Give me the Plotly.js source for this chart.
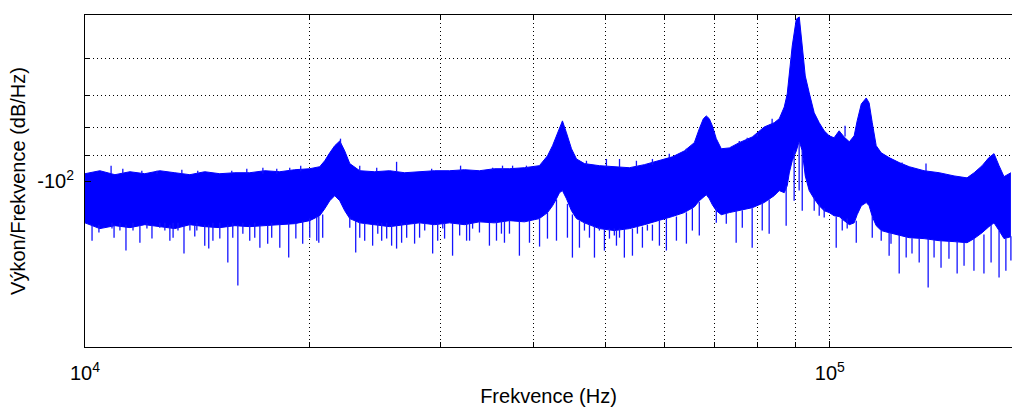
<!DOCTYPE html>
<html>
<head>
<meta charset="utf-8">
<script src="https://cdn.plot.ly/plotly-3.0.1.min.js"></script>
<style>
html,body{margin:0;padding:0;background:#fff;overflow:hidden;}
#chart{width:1012px;height:407px;}
</style>
</head>
<body>
<div id="chart"></div>
<script>
// Frequency samples (Hz) of the envelope of the PSD band
const freqHz = [
  10000,10470,10970,11490,12030,12600,13200,13830,14480,15170,15890,16640,17430,18260,19120,
  20030,20660,20980,21310,21640,21980,22320,22670,23380,24480,25640,26860,28130,29460,30860,32320,33850,35450,37140,38900,40740,
  41780,42430,42950,43350,43750,44300,44990,45690,
  46830,49040,51360,53810,56360,59030,61450,63760,65770,
  66790,67630,68250,68890,69530,70390,71490,73280,75580,78670,
  81640,84200,85510,86850,87650,88200,89010,90130,90970,91810,
  92670,93810,95270,96760,98260,99790,101300,102900,104500,106200,
  107800,108800,110200,111900,112900,114000,115400,117200,120100,123900,
  127800,133800,140200,146800,152800,156200,160100,163500,166100,168700,
  171300,175000
];
// Upper edge of the band (dB/Hz)
const upperDb = [
  -97.0,-95.8,-97.4,-96.2,-97.0,-95.8,-96.6,-97.4,-96.2,-97.0,-96.6,-96.6,-95.8,-96.2,-95.4,
  -95.0,-94.2,-91.9,-88.9,-86.3,-84.6,-88.2,-93.0,-95.8,-96.2,-95.8,-96.6,-96.2,-95.8,-95.8,-95.4,-95.8,-95.0,-95.0,-94.6,-93.8,
  -90.0,-86.3,-82.8,-79.8,-77.8,-81.8,-87.4,-91.2,
  -93.0,-93.8,-94.2,-94.6,-93.4,-91.9,-90.4,-88.2,-85.2,
  -80.4,-77.1,-76.2,-77.1,-79.4,-83.8,-87.4,-87.1,-85.2,-83.2,
  -79.8,-78.4,-77.1,-73.4,-69.5,-63.2,-56.9,-50.9,-50.4,-56.9,
  -64.5,-69.2,-75.2,-78.4,-81.1,-82.8,-83.5,-81.1,-83.2,-84.9,
  -82.8,-77.8,-72.5,-70.7,-72.2,-78.4,-86.3,-88.9,-90.7,-92.6,
  -94.2,-95.8,-96.6,-97.9,-98.7,-96.6,-93.8,-90.7,-89.2,-93.8,
  -98.2,-96.6
];
// Lower edge of the dense part of the band (dB/Hz)
const lowerDb = [
  -119.1,-122.0,-120.5,-121.5,-120.0,-121.0,-122.0,-120.0,-121.0,-121.5,-120.5,-121.0,-120.5,-120.0,-119.5,
  -118.0,-115.6,-112.3,-108.6,-106.3,-108.6,-113.2,-117.0,-119.1,-120.0,-121.0,-120.0,-119.1,-120.0,-119.1,-120.0,-118.6,-119.1,-118.0,-118.6,-117.0,
  -114.1,-110.9,-107.7,-105.0,-104.1,-107.7,-113.2,-117.0,
  -119.1,-122.0,-123.0,-122.0,-120.0,-118.0,-116.0,-114.1,-111.4,
  -108.6,-106.8,-105.9,-107.7,-110.4,-113.2,-115.1,-114.1,-113.2,-111.8,
  -109.4,-106.3,-104.1,-105.0,-102.0,-96.7,-91.9,-88.2,-84.6,-88.2,
  -97.9,-104.1,-107.7,-110.9,-113.2,-114.1,-115.6,-116.0,-118.0,-120.0,
  -119.1,-115.1,-110.9,-109.4,-110.9,-116.0,-120.5,-123.0,-124.1,-125.6,
  -126.7,-127.2,-128.3,-128.8,-129.4,-127.2,-124.1,-121.0,-119.1,-123.0,
  -127.2,-126.2
];
// Downward spikes below the band: frequency, tip value, value where the spike leaves the band
const spikeFreqHz = [
  10220,10440,10940,11350,11850,12300,13000,13580,14040,14480,14660,15550,16040,16640,17170,17590,18260,18770,19190,19600,
  20600,20850,23090,23740,24330,25800,26200,27700,29290,30390,31150,32830,34910,36570,38300,39510,40760,41770,42950,
  45120,46110,48300,49810,50590,51700,52980,54320,56020,57780,59040,60330,62230,64180,66790,
  74850,78650,82890,87360,89540,90940,91810,101980,108500,117200,120100,123900,128900,131800,135500,
  141000,144500,148200,151400,156100,161000,164600,168700,172300,175000,
  10870,11140,11600,12110,12600,12800,13130,13330,13830,14130,14850,15170,15790,16290,16900,17810,20030,20470,
  22670,23380,24720,25020,25410,26610,27030,28130,28580,29750,30220,31840,32530,33140,33850,35680,36230,37140,
  44430,46830,47560,49040,51360,52190,55160,56890,65370,70390,72600,76280,81130,
  95270,96760,98260,103900,105500,114000,120800,126600,138000
];
const spikeTipDb = [
  -128.3,-124.0,-126.7,-133.7,-129.4,-127.2,-128.3,-135.4,-126.1,-131.0,-132.6,-140.6,-154.7,-128.3,-132.1,-129.9,-132.1,-137.7,-127.2,-129.9,
  -129.4,-126.7,-134.8,-128.3,-131.0,-131.0,-132.6,-129.9,-135.4,-127.2,-136.6,-128.3,-131.0,-129.4,-136.6,-129.4,-131.5,-127.2,-128.3,
  -137.7,-132.1,-137.7,-133.7,-127.2,-131.0,-137.7,-136.6,-132.1,-128.3,-131.0,-133.7,-128.3,-129.9,-125.6,
  -129.4,-132.1,-124.6,-120.5,-108.6,-104.1,-113.2,-132.1,-129.4,-128.3,-136.6,-147.2,-135.4,-140.6,-156.0,
  -143.6,-138.3,-147.2,-142.4,-145.4,-147.2,-140.6,-149.7,-145.4,-139.4,
  -122.0,-123.0,-123.0,-122.0,-121.5,-123.0,-126.7,-123.0,-123.0,-123.0,-128.3,-127.2,-126.7,-124.6,-126.7,-126.7,-126.7,-128.3,
  -121.5,-126.7,-124.6,-128.3,-127.2,-129.4,-126.7,-126.7,-123.0,-128.3,-122.0,-125.6,-128.3,-122.0,-124.0,-128.3,-124.6,-124.6,
  -126.7,-123.0,-126.7,-123.0,-125.6,-126.7,-124.6,-123.0,-123.0,-119.1,-119.5,-121.5,-123.0,
  -113.2,-115.6,-116.5,-123.0,-122.0,-126.7,-129.9,-137.7,-137.7
];
const spikeBaseDb = [
  -120,-120,-120,-120,-120,-120,-120,-120,-120,-120,-120,-120,-120,-120,-120,-120,-120,-119,-119,-118,
  -116,-115,-118,-119,-120,-120,-120,-119,-120,-119,-119,-119,-119,-118,-118,-118,-117,-114,-108,
  -115,-118,-121,-122,-122,-123,-122,-122,-121,-120,-118,-117,-116,-114,-109,
  -113,-112,-108,-102,-88,-85,-88,-116,-118,-123,-124,-125,-127,-127,-127,
  -128,-128,-129,-129,-127,-125,-120,-123,-127,-126,
  -119,-119,-119,-119,-119,-119,-119,-119,-119,-119,-119,-119,-119,-119,-119,-119,-117,-116,
  -116,-118,-119,-119,-119,-119,-119,-119,-119,-119,-119,-119,-119,-119,-118,-118,-118,-118,
  -110,-119,-120,-121,-122,-122,-121,-120,-112,-112,-114,-113,-109,
  -107,-110,-112,-117,-117,-116,-124,-126,-128
];
// Short upward tips above the band: frequency, tip value, value where the tip leaves the band
const tipFreqHz = [
  10840,11240,11920,12490,13490,14170,15740,16490,17330,18090,18830,19480,22030,23380,24640,26200,29200,31930,
  35250,36350,37500,39140,47120,50120,52190,54990,57780,60870,64180,75580,77450,79880,83650,104800,125000,134600
];
const tipTopDb = [
  -93.8,-95.0,-95.8,-95.8,-95.4,-95.8,-95.8,-95.0,-94.6,-95.0,-94.6,-93.8,-83.8,-93.8,-94.6,-92.3,-95.0,-93.8,
  -94.6,-93.8,-93.8,-93.8,-91.9,-91.2,-91.2,-91.9,-91.2,-89.2,-87.4,-84.6,-83.5,-82.1,-77.1,-79.4,-92.6,-93.0
];
const tipBaseDb = [
  -97,-97,-97,-97,-97,-97,-97,-97,-97,-97,-96,-96,-86,-96,-96,-96,-96,-96,
  -95.5,-95.5,-95,-95,-93.5,-94,-94.5,-94,-93.5,-91,-88.5,-85.5,-84.5,-83,-79,-83,-93.5,-96
];
const xMajorVals = [10000,100000];
const xMajorText = ['10<sup>4</sup>','10<sup>5</sup>'];
const xMinorVals = [20000,30000,40000,50000,60000,70000,80000,90000];
const yMajorVals = [100];
const yMajorText = ['-10<sup>2</sup>'];
const yMinorVals = [50,60,70,80,90,200];

// The axis is a log axis of the (negative) dB magnitude; plot |dB|
const mag = a => a.map(v => -v);
function segments(fs, a, b) {
  const sx = [], sy = [];
  for (let i = 0; i < fs.length; i++) {
    sx.push(fs[i], fs[i], null);
    sy.push(-a[i], -b[i], null);
  }
  return {sx, sy};
}
const down = segments(spikeFreqHz, spikeBaseDb, spikeTipDb);
const up = segments(tipFreqHz, tipBaseDb, tipTopDb);
const blue = '#0000ff';
const traces = [
  {x: freqHz, y: mag(lowerDb), type: 'scatter', mode: 'lines',
   line: {color: blue, width: 1}, hoverinfo: 'skip'},
  {x: freqHz, y: mag(upperDb), type: 'scatter', mode: 'lines', fill: 'tonexty',
   fillcolor: blue, line: {color: blue, width: 1}, hoverinfo: 'skip'},
  {x: down.sx, y: down.sy, type: 'scatter', mode: 'lines', connectgaps: false,
   line: {color: '#1414ff', width: 1.3}, hoverinfo: 'skip'},
  {x: up.sx, y: up.sy, type: 'scatter', mode: 'lines', connectgaps: false,
   line: {color: '#1414ff', width: 1.3}, hoverinfo: 'skip'}
];
const font = {family: 'Liberation Sans, Arial, Helvetica, sans-serif', size: 20, color: '#000'};
const grid = {showgrid: true, gridcolor: '#000', gridwidth: 1, griddash: '1px,3px'};
const layout = {
  width: 1012, height: 407,
  margin: {l: 85, r: 0, t: 15, b: 60, pad: 0},
  paper_bgcolor: '#fff', plot_bgcolor: '#fff',
  showlegend: false,
  font: font,
  xaxis: Object.assign({
    type: 'log', range: [4, 5.2445],
    tickmode: 'array', tickvals: xMajorVals, ticktext: xMajorText,
    ticks: 'inside', ticklen: 6, tickwidth: 1, tickcolor: '#000',
    minor: Object.assign({tickmode: 'array', tickvals: xMinorVals, ticks: 'inside',
      ticklen: 5, tickwidth: 1, tickcolor: '#000'}, grid),
    showline: true, linecolor: '#000', linewidth: 1, mirror: 'ticks',
    zeroline: false, ticklabelstandoff: 8,
    tickfont: font,
    title: {text: 'Frekvence (Hz)', font: font, standoff: 6}
  }, grid),
  yaxis: Object.assign({
    type: 'log', range: [Math.log10(200), Math.log10(50)],
    tickmode: 'array', tickvals: yMajorVals, ticktext: yMajorText,
    ticks: 'inside', ticklen: 6, tickwidth: 1, tickcolor: '#000',
    minor: Object.assign({tickmode: 'array', tickvals: yMinorVals, ticks: 'inside',
      ticklen: 5, tickwidth: 1, tickcolor: '#000'}, grid),
    showline: true, linecolor: '#000', linewidth: 1, mirror: false,
    zeroline: false, ticklabelstandoff: 6,
    tickfont: font,
    title: {text: 'Výkon/Frekvence (dB/Hz)', font: font, standoff: 6}
  }, grid)
};
Plotly.newPlot('chart', traces, layout, {staticPlot: true, displayModeBar: false});
</script>
</body>
</html>
